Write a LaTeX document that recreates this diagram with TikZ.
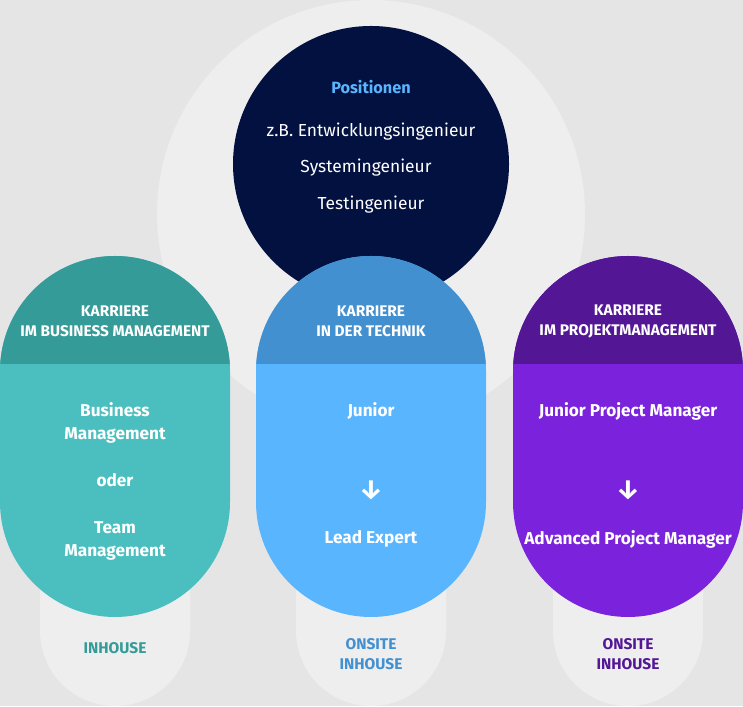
\documentclass[tikz,border=0pt]{standalone}
\usepackage{fontspec}
\setmainfont{Fira Sans}
\definecolor{bgc}{HTML}{E5E5E5}
\definecolor{lightc}{HTML}{EEEEEE}
\definecolor{navyc}{HTML}{021140}
\definecolor{tealH}{HTML}{359B98}
\definecolor{tealB}{HTML}{4BBFBF}
\definecolor{blueH}{HTML}{4390D0}
\definecolor{blueB}{HTML}{5AB5FF}
\definecolor{purpH}{HTML}{531795}
\definecolor{purpB}{HTML}{7A22DC}
\definecolor{posc}{HTML}{5AB5FF}
\tikzset{
  hdr/.style={text=white, font=\bfseries\fontsize{15.4}{20}\selectfont, align=center, inner sep=0pt},
  bodyt/.style={text=white, font=\bfseries\fontsize{17.2}{23}\selectfont, align=center, inner sep=0pt},
  post/.style={text=white, font=\fontsize{17.4}{20}\selectfont, inner sep=0pt},
  loct/.style={font=\bfseries\fontsize{15.5}{20}\selectfont, inner sep=0pt},
  arrt/.style={text=white, font=\bfseries\fontsize{27}{28}\selectfont, inner sep=0pt}
}
\begin{document}
\begin{tikzpicture}[x=1pt,y=1pt]
\useasboundingbox (0,0) rectangle (743,706);
\fill[bgc] (0,0) rectangle (743,706);
% big light circle
\fill[lightc] (371,492) circle (214);
% location pills
\foreach \cx in {115,371,628}{
  \fill[lightc, rounded corners=75pt] (\cx-75,0) rectangle (\cx+75,300);
}
% navy circle
\fill[navyc] (371,542) circle (138);
% colored pills
\foreach \cx/\hc/\bc in {115/tealH/tealB, 371/blueH/blueB, 628/purpH/purpB}{
  \fill[\bc, rounded corners=115pt] (\cx-115,89) rectangle (\cx+115,450);
  \begin{scope}
    \clip (\cx-120,342) rectangle (\cx+120,460);
    \fill[\hc, rounded corners=115pt] (\cx-115,89) rectangle (\cx+115,450);
  \end{scope}
}
% top texts
\node[text=posc, font=\bfseries\fontsize{16.3}{18}\selectfont, inner sep=0pt] (pos) at (371,619) {Positionen};
\node[post] (p1) at (371,574.5) {z.B. Entwicklungsingenieur};
\node[post] (p2) at (366,538) {Systemingenieur};
\node[post] (p3) at (371,501) {Testingenieur};
% headers
\node[hdr] (h1) at (115,385) {KARRIERE\\IM BUSINESS MANAGEMENT};
\node[hdr] (h2) at (371,385) {KARRIERE\\IN DER TECHNIK};
\node[hdr] (h3) at (628,385) {KARRIERE\\IM PROJEKTMANAGEMENT};
% left body
\node[bodyt] (b1) at (115,283) {Business\\Management};
\node[bodyt] (b2) at (115,226) {oder};
\node[bodyt] (b3) at (115,165.5) {Team\\Management};
% middle body
\node[bodyt] (m1) at (371,295) {Junior};
\node[arrt] (m2) at (371,216) {↓};
\node[bodyt] (m3) at (371,167) {Lead Expert};
% right body
\node[bodyt] (r1) at (628,295) {Junior Project Manager};
\node[arrt] (r2) at (628,216) {↓};
\node[bodyt] (r3) at (628,167) {Advanced Project Manager};
% locations
\node[loct, text=tealH] (l1) at (115,58) {INHOUSE};
\node[loct, text=blueH, align=center] (l2) at (371,52) {ONSITE\\INHOUSE};
\node[loct, text=purpH, align=center] (l3) at (628,52) {ONSITE\\INHOUSE};
\end{tikzpicture}
\end{document}
